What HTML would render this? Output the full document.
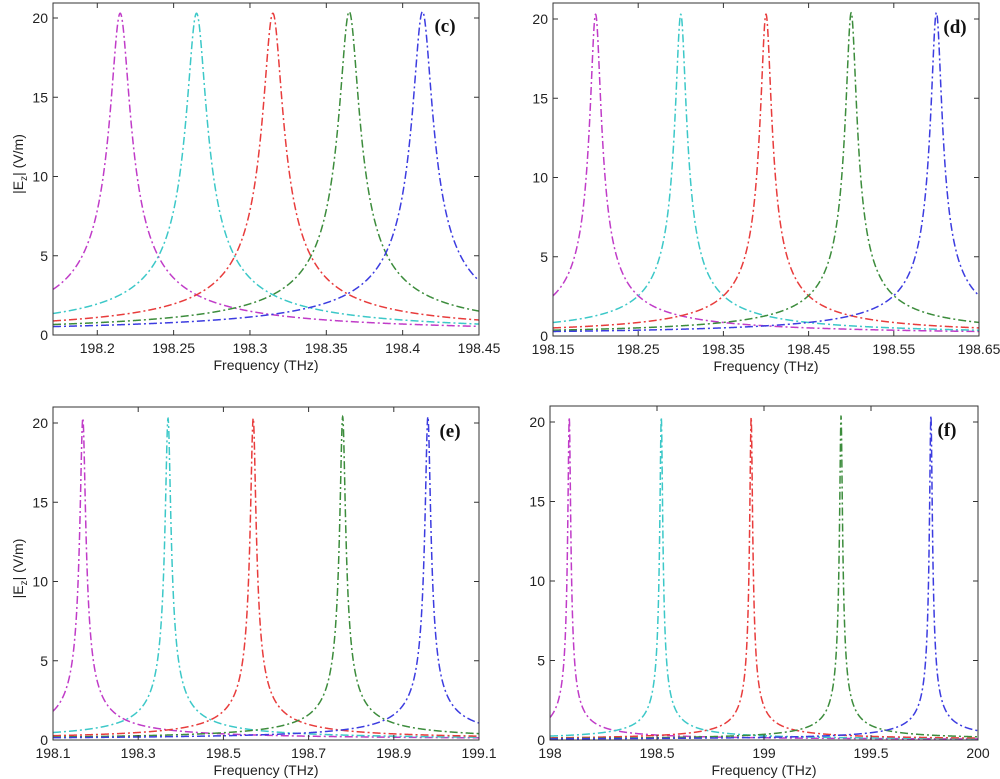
<!DOCTYPE html>
<html><head><meta charset="utf-8"><style>
html,body{margin:0;padding:0;background:#fff;}
svg{display:block;font-family:"Liberation Sans",sans-serif;}
</style></head><body>
<svg id="fig" width="1000" height="779" viewBox="0 0 1000 779"></svg>
<script>
// Panel data
const panelLabels = ["(c)", "(d)", "(e)", "(f)"];
const xMins = [198.171, 198.15, 198.1, 198];
const xMaxs = [198.45, 198.65, 199.1, 200];
const xTickLabels = [
  ["198.2","198.25","198.3","198.35","198.4","198.45"],
  ["198.15","198.25","198.35","198.45","198.55","198.65"],
  ["198.1","198.3","198.5","198.7","198.9","199.1"],
  ["198","198.5","199","199.5","200"]
];
const yTicks = [0, 5, 10, 15, 20];
const peakCentersC = [198.215, 198.265, 198.315, 198.365, 198.413];
const peakCentersD = [198.2, 198.3, 198.4, 198.5, 198.6];
const peakCentersE = [198.17, 198.37, 198.57, 198.78, 198.98];
const peakCentersF = [198.09, 198.52, 198.94, 199.36, 199.78];
const peakHeights = [20.3, 20.3, 20.3, 20.4, 20.4];
const halfWidth = 0.0063;
const seriesColors = ["#c03cc8", "#3cc8c8", "#e83c3c", "#3c8c3c", "#3c3ce0"];
const seriesNames = ["magenta", "cyan", "red", "green", "blue"];

const boxes = [
  {l:53, r:479, t:3, b:335, y20:18, lx:445},
  {l:553, r:979, t:3, b:336, y20:19, lx:955},
  {l:53, r:479, t:407, b:740, y20:423, lx:450},
  {l:550, r:978, t:406, b:740, y20:422, lx:947}
];
const allCenters = [peakCentersC, peakCentersD, peakCentersE, peakCentersF];
const NS = "http://www.w3.org/2000/svg";
const svg = document.getElementById('fig');
function mk(tag, attrs, parent){const e=document.createElementNS(NS,tag);for(const k in attrs)e.setAttribute(k,attrs[k]);(parent||svg).appendChild(e);return e;}

boxes.forEach((bx, p) => {
  const g = mk('g', {});
  
  
  const xs = v => bx.l + (v - xMins[p]) / (xMaxs[p] - xMins[p]) * (bx.r - bx.l);
  const ys = v => bx.b - v / 20 * (bx.b - bx.y20);
  const clip = mk('clipPath', {id:'clip'+p}, g);
  mk('rect', {x:bx.l, y:bx.t, width:bx.r-bx.l, height:bx.b-bx.t}, clip);
  allCenters[p].forEach((c, i) => {
    const pts = [];
    const step = 0.25;
    const xc = xs(c);
    let xsPts = [];
    for (let px = bx.l; px <= bx.r; px += step) xsPts.push(px);
    xsPts.push(xc); xsPts.sort((a,b)=>a-b);
    xsPts.forEach(px => {
      const f = xMins[p] + (px - bx.l) / (bx.r - bx.l) * (xMaxs[p] - xMins[p]);
      const d = (f - c) / halfWidth;
      const v = peakHeights[i] / Math.sqrt(1 + d*d);
      pts.push(px.toFixed(2) + ',' + ys(v).toFixed(2));
    });
    const pl = mk('polyline', {points: pts.join(' '), fill:'none', stroke: seriesColors[i], 'stroke-width':1.5, 'stroke-dasharray':'8,3,2,3', 'clip-path':'url(#clip'+p+')'}, g);
    
    
  });
  const fr = mk('rect', {x:bx.l, y:bx.t, width:bx.r-bx.l, height:bx.b-bx.t, fill:'none', stroke:'#333', 'stroke-width':1}, g);
  
  
  yTicks.forEach(t => {
    const y = ys(t);
    mk('line', {x1:bx.l, x2:bx.l+5, y1:y, y2:y, stroke:'#333'}, g);
    mk('line', {x1:bx.r, x2:bx.r-5, y1:y, y2:y, stroke:'#333'}, g);
    const tx = mk('text', {x:bx.l-5, y:y+5, 'text-anchor':'end', 'font-size':14, fill:'#222'}, g);
    tx.textContent = t;
    
    
  });
  xTickLabels[p].forEach(lbl => {
    const x = xs(parseFloat(lbl));
    mk('line', {x1:x, x2:x, y1:bx.b, y2:bx.b-5, stroke:'#333'}, g);
    mk('line', {x1:x, x2:x, y1:bx.t, y2:bx.t+5, stroke:'#333'}, g);
    const tx = mk('text', {x:x, y:bx.b+18, 'text-anchor':'middle', 'font-size':14, fill:'#222'}, g);
    tx.textContent = lbl;
    
    
  });
  const xt = mk('text', {x:(bx.l+bx.r)/2, y:bx.b+35, 'text-anchor':'middle', 'font-size':14, fill:'#222'}, g);
  xt.textContent = 'Frequency (THz)';
  
  
  const pl = mk('text', {x:bx.lx, y:bx.y20+14, 'text-anchor':'middle', 'font-size':19, 'font-weight':'bold', 'font-family':'"Liberation Serif",serif', fill:'#111'}, g);
  pl.textContent = panelLabels[p];
  
  
  if (p % 2 === 0) {
    const cy = (bx.t + bx.b) / 2 - 5;
    const yt = mk('text', {x:0, y:0, transform:'translate(23,'+cy+') rotate(-90)', 'text-anchor':'middle', 'font-size':14, fill:'#222'}, g);
    yt.innerHTML = '|E<tspan dy="4" font-size="10">z</tspan><tspan dy="-4">| (V/m)</tspan>';
    
    
  }
});
</script>
</body></html>
